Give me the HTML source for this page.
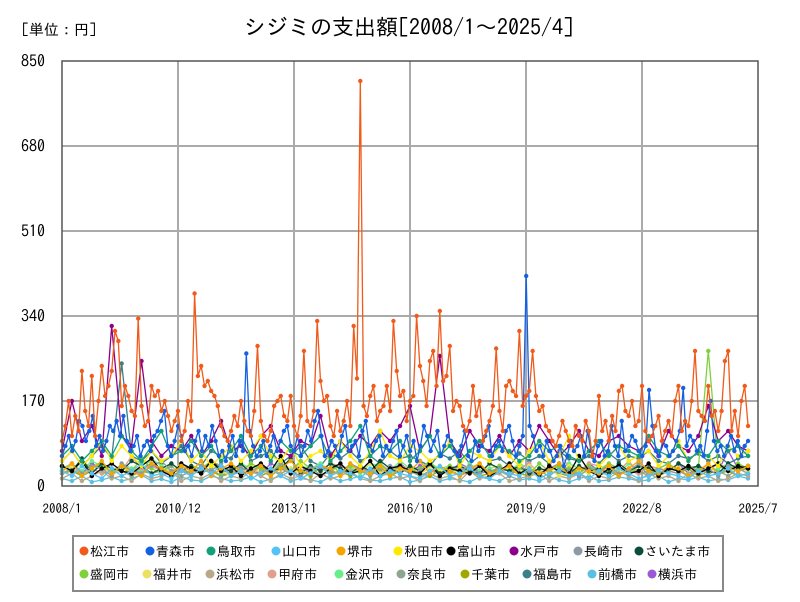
<!DOCTYPE html>
<html><head><meta charset="utf-8">
<style>
body{margin:0;background:#fff;}
#wrap{position:relative;width:800px;height:600px;font-family:"IPAGothic","Noto Sans CJK JP",sans-serif;}
svg text{font-family:"IPAGothic","Noto Sans CJK JP",sans-serif;}
</style></head>
<body>
<div id="wrap">
<svg id="chart" width="800" height="600">
<text x="14" y="35" font-size="15" fill="#000">［単位：円］</text>
<text x="409" y="35" font-size="22" text-anchor="middle" fill="#000">シジミの支出額[2008/1～2025/4]</text>
<g id="grid"></g>
<g id="series"></g>
<rect x="62" y="61" width="696" height="425" fill="none" stroke="#555" stroke-width="1.5"/>
<g id="axes"></g>
<rect x="73" y="536" width="650" height="55" fill="#fff" stroke="#888" stroke-width="2"/>
<g id="legend"></g>
</svg>
</div>
<script>
const yTicks=[0,170,340,510,680,850];
const xTickLabels=["2008/1","2010/12","2013/11","2016/10","2019/9","2022/8","2025/7"];
const xTickMonths=[0,35,70,105,140,175,210];
const seriesNames=["松江市","青森市","鳥取市","山口市","堺市","秋田市","富山市","水戸市","長崎市","さいたま市","盛岡市","福井市","浜松市","甲府市","金沢市","奈良市","千葉市","福島市","前橋市","横浜市"];
const seriesColors=["#f05a1a","#1560e0","#12a07a","#55c2f5","#f5a500","#ffe800","#000000","#8b008b","#8c9aa6","#0b4d3b","#7fd13b","#ece060","#b8aa88","#e0a090","#66ee88","#8fa58f","#a0a800","#3b7f8c","#5bbfe0","#9b59d6"];
const matsue=[90,120,170,100,140,110,230,150,120,220,100,170,240,180,200,230,310,290,160,200,180,150,140,335,160,120,130,200,180,190,150,170,140,110,130,150,90,110,170,130,385,220,240,200,210,190,180,160,120,100,90,110,140,120,170,130,110,100,150,280,130,100,90,110,160,170,180,140,130,180,120,100,140,270,130,120,150,330,210,170,180,120,100,150,110,130,170,120,320,215,810,160,140,180,200,130,150,160,200,150,330,230,180,190,130,170,180,340,240,210,160,250,270,200,350,210,220,280,150,170,160,120,110,130,200,140,170,90,110,130,160,275,150,110,200,210,190,180,310,160,180,190,270,180,150,160,120,110,90,80,100,130,110,90,80,120,100,90,130,110,60,90,180,110,130,90,140,110,190,200,150,140,170,120,130,200,110,90,100,120,140,90,110,130,100,170,200,110,130,120,170,270,150,140,130,200,140,150,110,150,250,270,110,150,100,170,200,120];
const aomori=[60,80,100,70,90,130,120,90,110,140,80,100,70,90,120,110,130,100,140,90,70,80,100,60,80,90,70,100,110,130,150,80,60,90,120,100,70,80,60,90,110,70,100,80,120,90,60,70,50,80,100,60,90,70,265,110,80,60,70,90,60,80,100,70,90,110,120,80,70,100,60,80,110,90,130,150,100,60,70,90,80,60,100,120,70,80,90,60,110,130,80,70,90,100,60,80,70,90,110,60,80,100,70,90,50,80,120,100,70,90,110,60,80,100,90,70,60,80,110,60,50,90,70,80,100,120,60,80,90,70,110,120,90,60,80,100,420,120,100,70,80,60,90,70,50,60,80,40,60,90,70,80,100,60,110,70,50,80,90,60,70,120,80,60,130,70,80,100,90,70,60,80,192,120,70,60,90,80,60,70,90,110,196,80,100,90,70,80,60,110,170,90,70,80,60,80,100,70,90,60,80,90];
const tottori=[60,80,50,70,90,60,100,70,50,80,110,60,70,90,60,80,50,70,100,60,80,50,90,70,60,80,100,50,70,90,120,60,80,70,90,50,70,100,60,80,50,70,90,60,80,70,50,60,90,70,80,60,50,70,90,60,80,70,60,100,70,60,80,50,70,60,90,70,80,60];
const yamaguchi=[30,20,40,25,15,35,20,30,45,20,25,15,30,20,35,25,40,20,30,15,25,35,20,30,15,25,40,20,30,25,15,35,20,30,25,20,15,30,40,20,25,35,20,15,30,25,20,35,15,25,30,20,25,15,30,20,35,25,15,20,30,25,20,15,30,20,25,35,20,25];
const sakai=[30,45,20,35,50,25,40,30,20,45,35,25,40,30,50,20,35,45,30,25,40,20,35,50,30,25,40,35,20,45,30,25,40,20,35,30,50,25,40,30,20,35,45,25,30,40,20,35,25,30,45,20,35,30,25,40,20,35,50,30,25,40,35,20,30,45,25,35,30,40];
const akita=[50,70,40,60,90,50,80,60,40,70,50,60,90,50,70,40,60,80,50,70,100,60,50,80,40,60,70,50,90,60,40,70,110,60,50,80,70,50,60,90,40,70,60,50,80,60,40,70,90,50,60,100,50,70,40,60,80,50,60,70,40,60,90,50,70,60,40,80,60,70];
const toyama=[40,30,50,20,35,45,30,25,40,55,30,20,45,35,25,50,30,40,20,35,45,30,60,25,40,30,20,35,45,25,30,50,20,35,40,30,25,45,20,35,30,25,40,20,30,45,25,35,20,40,30,25,60,30,20,35,40,25,30,45,20,35,30,40,25,35,45,30,40,35];
const mito=[70,170,90,120,60,320,100,80,250,90,60,80,70,100,60,90,130,70,80,60,100,120,70,60,90,80,140,60,90,70,100,80,110,90,120,160,70,100,260,90,60,110,80,70,100,60,90,70,120,90,60,80,110,70,60,90,100,80,70,90,60,110,80,70,100,160,90,110,80,70];
const nagasaki=[30,45,25,40,35,20,45,30,25,40,50,30,35,25,40,30,45,20,35,30,40,25,45,30,20,35,40,30,25,45,35,30,20,40,35,25,30,45,20,35,30,40,25,30,35,20,40,30,25,35,45,30,20,35,30,40,25,30,45,20,35,30,25,40,30,35,20,40,30,35];
const saitama=[40,30,55,25,45,35,30,50,40,25,35,45,30,40,25,50,35,30,45,25,40,30,35,55,25,40,30,45,35,25,40,30,50,35,25,40,30,45,25,35,40,30,25,45,35,30,40,25,35,30,45,25,40,30,35,25,45,30,40,35,25,30,45,35,40,30,25,45,35,40];
const morioka=[40,30,50,35,45,25,40,30,55,35,25,45,30,40,35,50,25,40,30,45,35,25,40,30,50,35,30,45,25,40,35,30,45,25,40,30,35,50,25,40,30,35,45,25,40,30,35,25,45,30,40,35,25,40,30,45,35,25,40,30,35,45,30,40,35,270,40,30,45,35];
const fukui=[30,40,25,35,45,20,35,30,40,25,35,30,45,25,35,40,30,20,35,40,25,30,45,35,25,40,30,35,20,40,30,45,25,35,30,40,25,35,30,20,40,35,25,45,30,35,25,40,30,35,20,40,30,25,35,45,30,25,40,35,30,25,45,35,30,40,25,35,40,30];
const hamamatsu=[15,25,10,20,30,15,20,10,25,15,20,30,10,20,15,25,10,20,15,30,20,10,25,15,20,10,25,15,20,30,15,10,20,25,15,20,10,25,15,20,10,30,15,20,25,10,15,20,25,10,20,15,25,10,20,15,30,20,10,25,15,20,10,25,15,20,10,15,25,20];
const kofu=[40,30,50,35,25,45,30,60,35,40,30,25,45,35,30,50,40,30,25,45,35,30,40,25,50,35,30,45,40,30,35,25,45,30,40,35,30,50,25,40,35,30,45,25,40,30,35,45,25,40,70,35,30,45,40,35,30,50,25,40,35,45,30,40,35,30,45,35,40,30];
const kanazawa=[35,45,30,50,40,25,45,35,30,55,40,30,45,35,25,50,40,30,45,35,40,30,50,25,40,35,45,30,40,35,25,45,40,30,50,35,30,45,35,40,25,45,30,35,40,30,45,35,25,40,30,45,35,30,40,35,25,45,30,40,35,30,45,35,40,30,35,45,30,40];
const nara=[25,35,20,30,40,25,30,20,35,25,30,40,20,30,25,35,20,30,40,25,30,20,35,25,30,40,20,30,25,35,30,20,35,25,40,30,20,30,25,35,20,30,40,25,30,20,35,25,30,20,35,30,25,40,20,30,25,35,30,20,25,35,30,20,35,25,30,20,35,25];
const chiba=[25,30,20,35,25,30,40,20,30,25,35,20,30,25,40,30,20,25,35,30,20,30,25,35,30,20,40,25,30,20,35,25,30,20,30,35,25,20,30,25,40,30,20,25,35,30,25,20,35,30,25,20,30,35,25,30,20,35,25,30,20,30,25,35,20,30,25,30,20,25];
const fukushima=[50,70,40,60,80,55,245,60,50,70,45,60,80,50,40,70,60,55,90,50,60,70,45,60,80,50,40,65,55,70,50,60,45,70,55,60,50,40,65,55,70,45,60,50,55,40,65,50,60,45,70,55,50,60,45,65,50,60,55,70,50,45,60,55,65,50,60,45,55,60];
const maebashi=[15,10,20,8,12,18,10,15,22,10,14,8,18,12,10,20,15,10,12,18,8,14,20,10,15,12,8,18,10,14,20,12,10,15,18,8,12,20,10,15,12,8,18,14,10,20,12,15,10,18,12,8,15,20,10,12,18,15,10,12,20,8,15,12,18,10,14,12,20,15];
const yokohama=[30,40,25,45,35,30,40,25,35,45,30,25,40,35,30,50,25,35,40,30,25,45,35,30,40,25,35,30,45,25,40,30,35,25,45,30,40,35,25,30,45,35,30,25,40,30,35,45,25,40,30,35,25,45,30,40,35,30,25,40,35,30,45,25,35,40,30,70,35,40];
const allSeries=[matsue,aomori,tottori,yamaguchi,sakai,akita,toyama,mito,nagasaki,saitama,morioka,fukui,hamamatsu,kofu,kanazawa,nara,chiba,fukushima,maebashi,yokohama];

const NS="http://www.w3.org/2000/svg";
const L=62,R=758,T=61,B=486,totalMonths=210,yMax=850,lastMonth=207;
function xs(m){return L+(R-L)*m/totalMonths;}
function ys(v){return B-(B-T)*v/yMax;}
function mk(tag,attrs,parent){const e=document.createElementNS(NS,tag);for(const k in attrs)e.setAttribute(k,attrs[k]);parent.appendChild(e);return e;}
const grid=document.getElementById('grid'),axes=document.getElementById('axes');
yTicks.forEach((v,i)=>{
  if(v>0&&v<yMax){const g=mk('line',{x1:L,x2:R,y1:ys(v),y2:ys(v),stroke:'#aaa','stroke-width':2},grid);
  
  }
  const t=mk('text',{x:45,y:ys(v)+6,'text-anchor':'end','font-size':16,fill:'#000'},axes);
  t.textContent=v;
  
  
});
xTickMonths.forEach((m,i)=>{
  if(m>0&&m<totalMonths){const g=mk('line',{x1:xs(m),x2:xs(m),y1:T,y2:B,stroke:'#aaa','stroke-width':2},grid);
  
  }
  const t=mk('text',{x:xs(m),y:513,'text-anchor':'middle','font-size':13,fill:'#000'},axes);
  t.textContent=xTickLabels[i];
  
  
});
const sg=document.getElementById('series');
for(let s=allSeries.length-1;s>=0;s--){
  const d=allSeries[s],n=d.length,step=lastMonth/(n-1);
  const g=mk('g',{},sg);
  
  
  const pts=d.map((v,i)=>xs(i*step).toFixed(1)+','+ys(v).toFixed(1)).join(' ');
  const pl=mk('polyline',{points:pts,fill:'none',stroke:seriesColors[s],'stroke-width':1.3},g);
  
  
  d.forEach((v,i)=>{const c=mk('circle',{cx:xs(i*step),cy:ys(v),r:2.2,fill:seriesColors[s]},g);
    
    });
}
const legX1=[84,150,211,276,341,398,451,514,578,639],legX2=[84,147,210,272,339,401,465,527,592,652];
const lg=document.getElementById('legend');
seriesNames.forEach((nm,i)=>{
  const row=i<10?0:1,x=row?legX2[i-10]:legX1[i],y=row?579:556;
  const g=mk('g',{},lg);
  
  
  mk('circle',{cx:x,cy:y-5,r:4.5,fill:seriesColors[i]},g);
  const t=mk('text',{x:x+6,y:y,'font-size':13,fill:'#000'},g);
  t.textContent=nm;
});
</script>
</body></html>
